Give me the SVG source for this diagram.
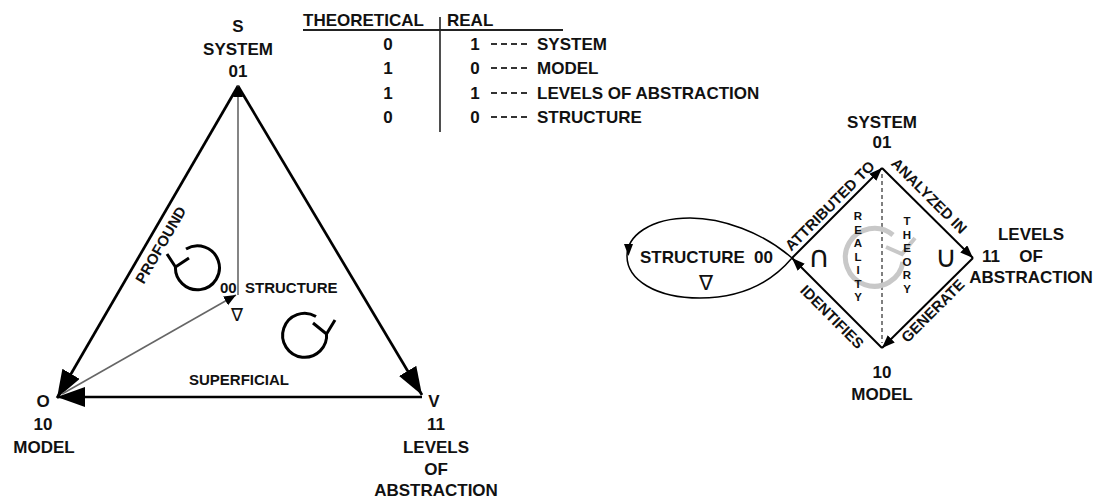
<svg xmlns="http://www.w3.org/2000/svg" width="1093" height="499" viewBox="0 0 1093 499">
<defs>
<style>
.t{font-family:"Liberation Sans",Arial,sans-serif;font-weight:bold;fill:#111;}
.f17{font-size:17px;}
.f15{font-size:15px;}
.f10{font-size:11.5px;}
.sym{font-family:"DejaVu Sans",sans-serif;fill:#111;}
.edge{stroke:#000;stroke-width:2.7;fill:none;}
.thin{stroke:#666;stroke-width:1.6;fill:none;}
.dia{stroke:#000;stroke-width:2;fill:none;}
.rot{stroke:#000;stroke-width:3;fill:none;}
</style>
<marker id="big" markerUnits="userSpaceOnUse" markerWidth="30" markerHeight="22" refX="28" refY="10" orient="auto"><path d="M0,0 L28,10 L0,20 Z" fill="#000"/></marker>
<marker id="sm" markerUnits="userSpaceOnUse" markerWidth="14" markerHeight="12" refX="12" refY="5" orient="auto"><path d="M0,0 L12,5 L0,10 Z" fill="#000"/></marker>
<marker id="dh" markerUnits="userSpaceOnUse" markerWidth="14" markerHeight="12" refX="13" refY="5" orient="auto"><path d="M0,0 L13,5 L0,10 Z" fill="#000"/></marker>
</defs>
<rect width="1093" height="499" fill="#fff"/>

<g id="connectors">
  <line class="edge" x1="238" y1="86" x2="57" y2="398" marker-end="url(#big)"/>
  <line class="edge" x1="238" y1="86" x2="422" y2="395" marker-end="url(#big)"/>
  <line class="edge" x1="422" y1="397" x2="57" y2="397" marker-end="url(#big)"/>
  <line class="thin" x1="238" y1="295" x2="238" y2="85" marker-end="url(#sm)"/>
  <line class="thin" x1="62" y1="394" x2="236" y2="295" marker-end="url(#sm)"/>

  <line class="dia" x1="792" y1="258" x2="882" y2="168" marker-end="url(#dh)"/>
  <line class="dia" x1="882" y1="168" x2="973" y2="258" marker-end="url(#dh)"/>
  <line class="dia" x1="973" y1="258" x2="882" y2="348" marker-end="url(#dh)"/>
  <line class="dia" x1="882" y1="348" x2="792" y2="258" marker-end="url(#dh)"/>
  <line x1="882" y1="174" x2="882" y2="343" stroke="#555" stroke-width="1.5" stroke-dasharray="4 3"/>
  <path d="M792,258 C762,232 722,218 690,218 C650,218 627,236 627,256 C627,280 656,298 700,298 C740,298 770,284 792,258" stroke="#000" stroke-width="1.5" fill="none"/>
  <path d="M624,244 L633,244 L628.5,256 Z" fill="#000"/>
</g>

<g id="rotations">
  <path class="rot" d="M186,249 A22,22 0 1 1 175.5,266"/>
  <polyline class="rot" points="167,254 175.5,267 189,258"/>
  <path class="rot" d="M316,316.5 A22,22 0 1 0 326.5,333"/>
  <polyline class="rot" points="313,323 326.5,334 335,320"/>
  <path d="M893,235 A29,29 0 1 0 903,262" stroke="#c8c8c8" stroke-width="5" fill="none"/>
  <polyline points="886,247 902,254 915,238" stroke="#c8c8c8" stroke-width="4" fill="none"/>
</g>

<g id="table">
  <text class="t f17" x="303" y="26">THEORETICAL</text>
  <text class="t f17" x="447" y="26">REAL</text>
  <line x1="303" y1="30" x2="563" y2="30" stroke="#222" stroke-width="2"/>
  <line x1="440" y1="17" x2="440" y2="132" stroke="#222" stroke-width="1.6"/>
  <g class="t f17" text-anchor="middle">
    <text x="388" y="50">0</text><text x="475" y="50">1</text>
    <text x="388" y="74">1</text><text x="475" y="74">0</text>
    <text x="388" y="99">1</text><text x="475" y="99">1</text>
    <text x="388" y="123">0</text><text x="475" y="123">0</text>
  </g>
  <g stroke="#333" stroke-width="1.8" stroke-dasharray="6 4">
    <line x1="491" y1="44" x2="527" y2="44"/>
    <line x1="491" y1="68" x2="527" y2="68"/>
    <line x1="491" y1="93" x2="527" y2="93"/>
    <line x1="491" y1="117" x2="527" y2="117"/>
  </g>
  <text class="t f17" x="537" y="50">SYSTEM</text>
  <text class="t f17" x="537" y="74">MODEL</text>
  <text class="t f17" x="537" y="99">LEVELS OF ABSTRACTION</text>
  <text class="t f17" x="537" y="123">STRUCTURE</text>
</g>

<g id="node-S" class="t f17" text-anchor="middle">
  <text x="238" y="32">S</text>
  <text x="238" y="55">SYSTEM</text>
  <text x="238" y="77">01</text>
</g>
<g id="node-O" class="t f17" text-anchor="middle">
  <text x="43" y="407">O</text>
  <text x="43" y="430">10</text>
  <text x="44" y="453">MODEL</text>
</g>
<g id="node-V" class="t f17" text-anchor="middle">
  <text x="434" y="407">V</text>
  <text x="436" y="430">11</text>
  <text x="436" y="453">LEVELS</text>
  <text x="436" y="475">OF</text>
  <text x="436" y="496">ABSTRACTION</text>
</g>
<g id="node-structure-left">
  <text class="t f15" x="220" y="293">00</text>
  <text class="t f15" x="245" y="293">STRUCTURE</text>
  <text class="sym" x="237" y="321" font-size="18" text-anchor="middle">∇</text>
</g>
<g id="labels-left" class="t f15" text-anchor="middle">
  <text transform="translate(161,245) rotate(-60)" x="0" y="5">PROFOUND</text>
  <text x="239" y="385">SUPERFICIAL</text>
</g>

<g id="node-system-right" class="t f17" text-anchor="middle">
  <text x="882" y="128">SYSTEM</text>
  <text x="882" y="148">01</text>
</g>
<g id="node-model-right" class="t f17" text-anchor="middle">
  <text x="882" y="378">10</text>
  <text x="882" y="400">MODEL</text>
</g>
<g id="node-levels-right" class="t f17">
  <text x="982" y="262">11</text>
  <text x="1031" y="240" text-anchor="middle">LEVELS</text>
  <text x="1031" y="262" text-anchor="middle">OF</text>
  <text x="1031" y="283" text-anchor="middle">ABSTRACTION</text>
</g>
<g id="node-structure-right">
  <text class="t f17" x="640" y="263">STRUCTURE</text>
  <text class="t f17" x="754" y="263">00</text>
  <text class="sym" x="706" y="290" font-size="21" text-anchor="middle">∇</text>
</g>
<g id="set-symbols" class="sym" font-size="30" text-anchor="middle">
  <text x="819" y="267">∩</text>
  <text x="946" y="267">∪</text>
</g>
<g id="labels-right" class="t f15" text-anchor="middle">
  <text transform="translate(830,206) rotate(-45)" x="0" y="5">ATTRIBUTED TO</text>
  <text transform="translate(929,196) rotate(45)" x="0" y="5">ANALYZED IN</text>
  <text transform="translate(933,311) rotate(-45)" x="0" y="5">GENERATE</text>
  <text transform="translate(832,317) rotate(45)" x="0" y="5">IDENTIFIES</text>
</g>
<g id="reality-theory" class="t f10" text-anchor="middle">
  <text><tspan x="858" y="220">R</tspan><tspan x="858" y="233.5">E</tspan><tspan x="858" y="247">A</tspan><tspan x="858" y="260.5">L</tspan><tspan x="858" y="274">I</tspan><tspan x="858" y="287.5">T</tspan><tspan x="858" y="301">Y</tspan></text>
  <text><tspan x="907" y="225">T</tspan><tspan x="907" y="238.5">H</tspan><tspan x="907" y="252">E</tspan><tspan x="907" y="265.5">O</tspan><tspan x="907" y="279">R</tspan><tspan x="907" y="293">Y</tspan></text>
</g>
</svg>
